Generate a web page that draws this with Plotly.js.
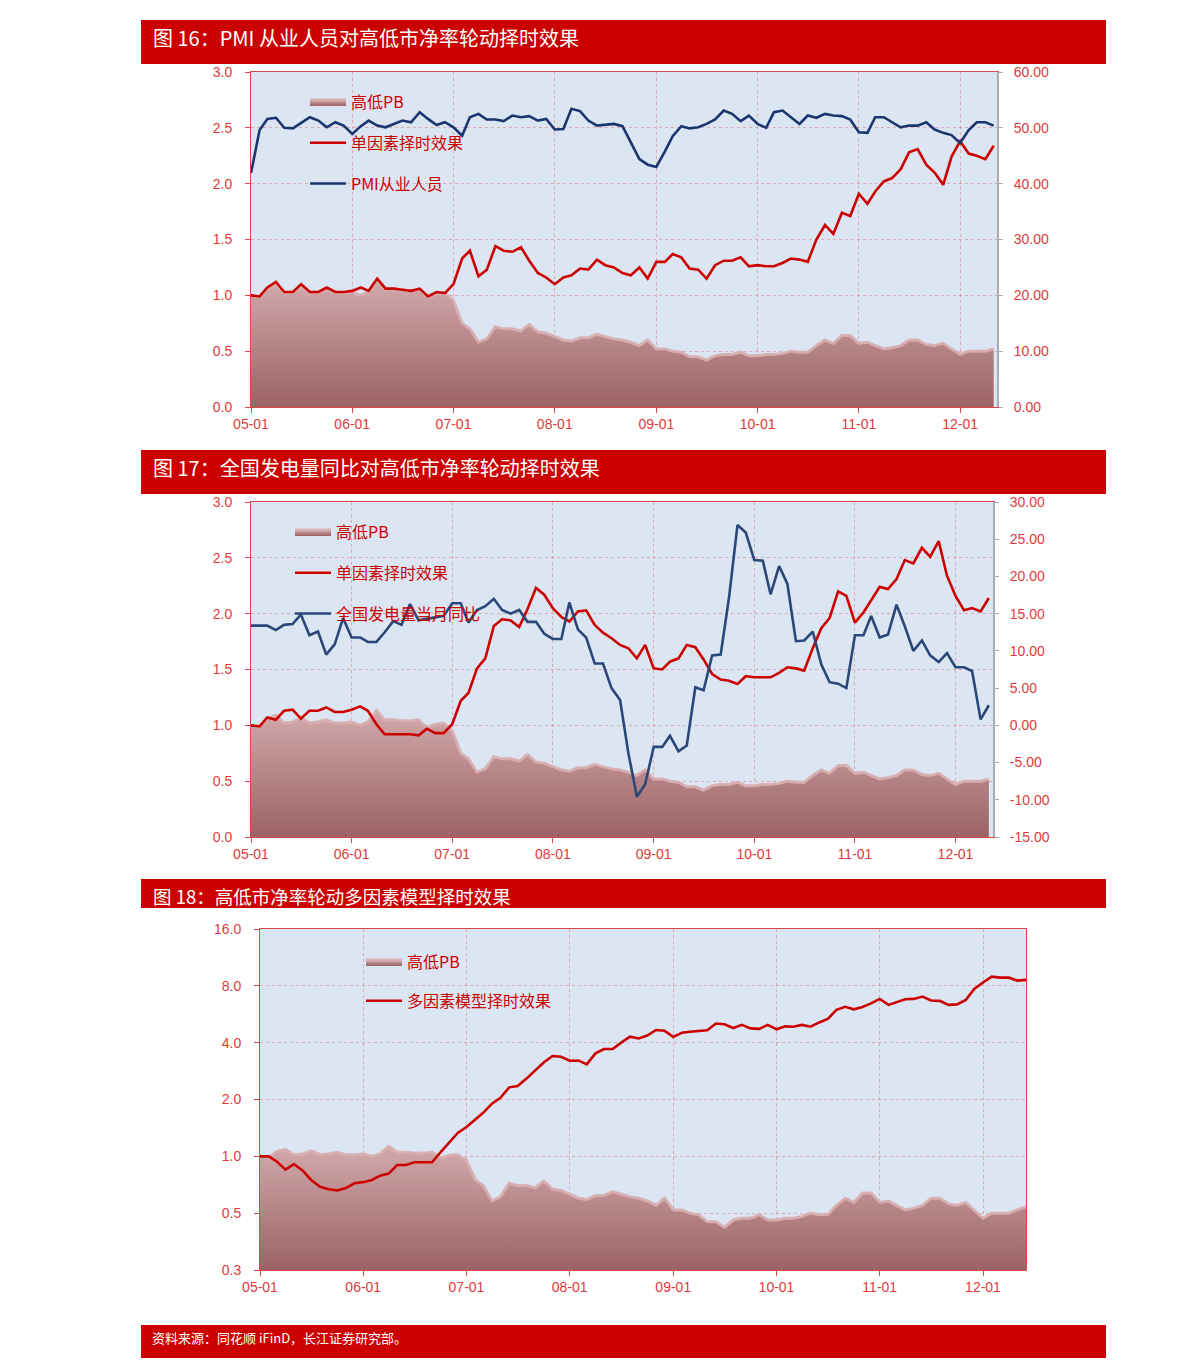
<!DOCTYPE html>
<html><head><meta charset="utf-8">
<script src="https://cdn.plot.ly/plotly-3.0.1.min.js"></script>
<style>html,body{margin:0;padding:0;background:#fff;}#chart{width:1191px;height:1365px;}</style>
</head><body><div id="chart"></div>
<script>
// ---- data ----
const months = [
 '2005-01-01','2005-02-01','2005-03-01','2005-04-01','2005-05-01','2005-06-01','2005-07-01','2005-08-01','2005-09-01','2005-10-01','2005-11-01','2005-12-01',
 '2006-01-01','2006-02-01','2006-03-01','2006-04-01','2006-05-01','2006-06-01','2006-07-01','2006-08-01','2006-09-01','2006-10-01','2006-11-01','2006-12-01',
 '2007-01-01','2007-02-01','2007-03-01','2007-04-01','2007-05-01','2007-06-01','2007-07-01','2007-08-01','2007-09-01','2007-10-01','2007-11-01','2007-12-01',
 '2008-01-01','2008-02-01','2008-03-01','2008-04-01','2008-05-01','2008-06-01','2008-07-01','2008-08-01','2008-09-01','2008-10-01','2008-11-01','2008-12-01',
 '2009-01-01','2009-02-01','2009-03-01','2009-04-01','2009-05-01','2009-06-01','2009-07-01','2009-08-01','2009-09-01','2009-10-01','2009-11-01','2009-12-01',
 '2010-01-01','2010-02-01','2010-03-01','2010-04-01','2010-05-01','2010-06-01','2010-07-01','2010-08-01','2010-09-01','2010-10-01','2010-11-01','2010-12-01',
 '2011-01-01','2011-02-01','2011-03-01','2011-04-01','2011-05-01','2011-06-01','2011-07-01','2011-08-01','2011-09-01','2011-10-01','2011-11-01','2011-12-01',
 '2012-01-01','2012-02-01','2012-03-01','2012-04-01','2012-05-01','2012-06-01'
];
// 高低PB (shared by all three charts)
const pbRatio = [
 1.00,0.99,1.06,1.09,1.02,1.03,1.07,1.02,1.03,1.05,1.02,1.02,
 1.03,1.00,1.03,1.13,1.05,1.05,1.04,1.04,1.05,0.98,1.01,1.02,
 0.95,0.75,0.70,0.58,0.61,0.72,0.70,0.70,0.68,0.74,0.67,0.66,
 0.63,0.60,0.59,0.62,0.62,0.65,0.63,0.61,0.60,0.58,0.55,0.60,
 0.52,0.52,0.50,0.49,0.45,0.45,0.42,0.46,0.47,0.47,0.49,0.46,
 0.46,0.47,0.47,0.48,0.50,0.49,0.49,0.55,0.60,0.57,0.64,0.64,
 0.57,0.58,0.55,0.52,0.53,0.55,0.60,0.60,0.56,0.55,0.57,0.52,
 0.47,0.50,0.50,0.50,0.52,0.54
];
// 图16 单因素择时效果 (PMI)
const singlePMI = [
 1.00,0.99,1.07,1.12,1.03,1.03,1.10,1.03,1.03,1.07,1.03,1.03,
 1.04,1.07,1.04,1.15,1.06,1.06,1.05,1.04,1.06,0.99,1.03,1.02,
 1.10,1.33,1.40,1.17,1.23,1.44,1.40,1.39,1.43,1.31,1.20,1.16,
 1.10,1.16,1.18,1.24,1.23,1.32,1.27,1.25,1.20,1.18,1.25,1.15,
 1.30,1.30,1.37,1.34,1.24,1.23,1.15,1.27,1.31,1.31,1.34,1.26,
 1.27,1.26,1.26,1.29,1.33,1.32,1.30,1.50,1.63,1.55,1.74,1.71,
 1.91,1.82,1.93,2.02,2.05,2.13,2.28,2.31,2.17,2.10,1.99,2.24,
 2.38,2.27,2.25,2.22,2.34
];
// 图16 PMI从业人员
const pmiEmployment = [
 41.9,49.6,51.6,51.8,50.0,49.9,50.9,51.9,51.3,50.1,51.0,50.4,
 48.9,50.3,51.3,50.4,50.1,50.7,51.3,51.0,52.8,51.6,50.5,51.0,
 50.1,48.6,51.9,52.5,51.5,51.5,51.2,52.2,51.9,52.1,51.3,51.6,
 49.7,49.8,53.4,53.0,51.3,50.4,50.6,50.7,50.3,47.3,44.4,43.4,
 43.0,45.8,48.5,50.3,49.9,50.1,50.7,51.5,53.1,52.5,51.2,52.2,
 50.7,50.0,52.8,53.1,51.9,50.7,52.2,51.8,52.5,52.2,52.1,51.5,
 49.2,49.1,51.9,51.9,51.0,50.1,50.4,50.4,51.0,49.7,49.1,48.7,
 47.3,49.6,51.0,51.0,50.4
];
// 图17 单因素择时效果 (发电量)
const singlePower = [
 1.00,0.99,1.07,1.05,1.13,1.14,1.06,1.13,1.13,1.16,1.12,1.12,
 1.14,1.17,1.13,1.01,0.92,0.92,0.92,0.92,0.91,0.97,0.93,0.93,
 1.01,1.22,1.29,1.51,1.60,1.89,1.95,1.94,1.88,2.04,2.23,2.17,
 2.05,1.97,1.93,2.02,2.03,1.90,1.83,1.78,1.72,1.69,1.60,1.72,
 1.51,1.50,1.57,1.60,1.72,1.70,1.59,1.46,1.41,1.40,1.37,1.44,
 1.43,1.43,1.43,1.47,1.52,1.51,1.49,1.69,1.87,1.96,2.20,2.16,
 1.92,2.01,2.12,2.24,2.22,2.31,2.48,2.45,2.59,2.51,2.65,2.34,
 2.16,2.03,2.05,2.02,2.14
];
// 图17 全国发电量当月同比
const powerYoY = [
 13.4,13.4,13.4,12.8,13.5,13.6,14.9,12.1,12.6,9.5,10.9,14.4,
 11.8,11.8,11.2,11.2,12.5,14.0,13.5,16.3,14.1,14.3,14.5,14.7,
 16.4,16.4,13.8,15.5,16.0,17.0,15.5,15.0,15.5,13.9,13.9,12.3,
 11.6,11.6,16.5,12.9,11.8,8.3,8.3,5.0,3.4,-3.7,-9.6,-7.9,
 -2.9,-2.9,-1.4,-3.5,-2.7,5.1,4.7,9.4,9.5,17.1,26.9,25.9,
 22.2,22.1,17.6,21.4,19.0,11.3,11.4,12.6,8.2,5.8,5.6,5.0,
 12.1,12.1,14.7,11.8,12.2,16.2,13.3,10.0,11.4,9.4,8.5,9.7,
 7.8,7.8,7.3,0.8,2.7
];
// 图18 多因素模型择时效果
const multiFactor = [
 1.00,1.00,0.94,0.85,0.91,0.84,0.75,0.69,0.67,0.66,0.68,0.72,
 0.73,0.75,0.79,0.81,0.90,0.90,0.93,0.93,0.93,1.05,1.18,1.33,
 1.43,1.57,1.70,1.90,2.04,2.32,2.36,2.58,2.84,3.14,3.40,3.37,
 3.21,3.22,3.07,3.51,3.70,3.70,4.00,4.30,4.21,4.36,4.67,4.63,
 4.29,4.52,4.57,4.61,4.65,5.05,5.01,4.78,4.97,4.76,4.73,4.97,
 4.71,4.88,4.86,4.97,4.86,5.12,5.34,5.97,6.19,6.01,6.18,6.46,
 6.82,6.34,6.54,6.79,6.82,7.02,6.69,6.66,6.34,6.38,6.73,7.70,
 8.33,8.95,8.84,8.84,8.53,8.60
];
// tick labels
const rightTicks16 = [0,10,20,30,40,50,60];
const rightTicks17 = [-15,-10,-5,0,5,10,15,20,25,30];
const rightText17 = ['-15.00','-10.00','-5.00','0.00','5.00','10.00','15.00','20.00','25.00','30.00'];
const logTicks18 = [0.25,0.5,1,2,4,8,16];
const logText18 = ['0.3','0.5','1.0','2.0','4.0','8.0','16.0'];
const titles = ['图 16：PMI 从业人员对高低市净率轮动择时效果','图 17：全国发电量同比对高低市净率轮动择时效果','图 18：高低市净率轮动多因素模型择时效果'];
const sourceText = '资料来源：同花顺 iFinD，长江证券研究部。';

// ---- helpers ----
const W = 1191, H = 1365;
const X = p => p / W;
const Y = p => 1 - p / H;
const n1 = 89;
const RED = '#CC0000';
const TICKRED = '#E23A3A';
const AXISRED = '#D84848';
const GRID = 'rgba(222,120,125,0.55)';
const CJK = '"Noto Sans CJK SC", "Noto Sans", sans-serif';
const LAT = '"Liberation Sans", Arial, sans-serif';
const tickfont = {family: LAT, size: 14, color: TICKRED};

function pbTrace(n, xa, ya, leg, start, stop) {
  return {
    x: months.slice(0, n), y: pbRatio.slice(0, n), xaxis: xa, yaxis: ya,
    type: 'scatter', mode: 'lines', name: '高低PB', legend: leg, legendgroup: leg + 'a',
    fill: 'tozeroy',
    line: {color: 'rgba(216,174,177,0.95)', width: 3},
    fillgradient: {type: 'vertical', start: start, stop: stop,
      colorscale: [[0, '#9C6265'], [1, '#D2AAAC']]},
    hoverinfo: 'skip'
  };
}

const traces = [
  pbTrace(n1, 'x', 'y', 'legend', 0, 1.15),
  {x: months.slice(0, n1), y: singlePMI, xaxis: 'x', yaxis: 'y', type: 'scatter', mode: 'lines',
   name: '单因素择时效果', legend: 'legend', legendgroup: 'l1b', line: {color: RED, width: 2.6}},
  {x: months.slice(0, n1), y: pmiEmployment, xaxis: 'x', yaxis: 'y2', type: 'scatter', mode: 'lines',
   name: 'PMI从业人员', legend: 'legend', legendgroup: 'l1c', line: {color: '#1B3570', width: 2.6}},

  pbTrace(n1, 'x2', 'y3', 'legend2', 0, 1.15),
  {x: months.slice(0, n1), y: singlePower, xaxis: 'x2', yaxis: 'y3', type: 'scatter', mode: 'lines',
   name: '单因素择时效果', legend: 'legend2', legendgroup: 'l2b', line: {color: RED, width: 2.6}},
  {x: months.slice(0, n1), y: powerYoY, xaxis: 'x2', yaxis: 'y4', type: 'scatter', mode: 'lines',
   name: '全国发电量当月同比', legend: 'legend2', legendgroup: 'l2c', line: {color: '#2A4779', width: 2.6}},

  pbTrace(months.length, 'x3', 'y5', 'legend3', 0.25, 1.15),
  {x: months, y: multiFactor, xaxis: 'x3', yaxis: 'y5', type: 'scatter', mode: 'lines',
   name: '多因素模型择时效果', legend: 'legend3', legendgroup: 'l3b', line: {color: RED, width: 2.6}}
];

function xAxis(d0, d1, anchor, end) {
  return {domain: [X(d0), X(d1)], anchor: anchor, type: 'date',
    range: ['2005-01-01', end], tick0: '2005-01-01', dtick: 'M12', tickformat: '%y-%m',
    ticks: 'outside', ticklen: 5, tickcolor: AXISRED, tickwidth: 1,
    showline: true, linecolor: AXISRED, linewidth: 1, mirror: true,
    showgrid: true, gridcolor: GRID, griddash: 'dot', gridwidth: 1,
    tickfont: tickfont, ticklabelstandoff: -1, fixedrange: true};
}
function yLeft(top, bottom, anchor) {
  return {domain: [Y(bottom), Y(top)], anchor: anchor, range: [0, 3], dtick: 0.5, tick0: 0,
    tickformat: '.1f', ticks: 'outside', ticklen: 5, tickcolor: AXISRED,
    showline: true, linecolor: AXISRED, linewidth: 1,
    showgrid: true, gridcolor: GRID, griddash: 'dot', gridwidth: 1, zeroline: false,
    tickfont: tickfont, ticklabelstandoff: 10, fixedrange: true};
}
function legendAt(px, py, gap) {
  return {x: X(px), y: Y(py), xanchor: 'left', yanchor: 'top', bgcolor: 'rgba(0,0,0,0)',
    font: {family: CJK, size: 16, color: RED}, tracegroupgap: gap, itemwidth: 36, traceorder: 'grouped'};
}

const layout = {
  width: W, height: H, margin: {l: 0, r: 0, t: 0, b: 0, pad: 0},
  paper_bgcolor: '#ffffff', plot_bgcolor: '#DCE6F2',
  font: {family: CJK, color: RED},
  showlegend: true,
  xaxis: xAxis(251, 997, 'y', '2012-05-13'),
  yaxis: yLeft(72, 407, 'x'),
  yaxis2: {overlaying: 'y', side: 'right', anchor: 'x', range: [0, 60], tickvals: rightTicks16,
    tickformat: '.2f', showgrid: false, zeroline: false, showline: true, linecolor: '#A9ADB5', linewidth: 2,
    ticks: 'outside', ticklen: 4, tickcolor: '#A9ADB5', tickfont: tickfont, ticklabelstandoff: 8, fixedrange: true},

  xaxis2: xAxis(251, 993, 'y3', '2012-05-16'),
  yaxis3: yLeft(502, 837, 'x2'),
  yaxis4: {overlaying: 'y3', side: 'right', anchor: 'x2', range: [-15, 30], tickvals: rightTicks17, ticktext: rightText17,
    showgrid: false, zeroline: false, showline: true, linecolor: '#A9ADB5', linewidth: 2,
    ticks: 'outside', ticklen: 4, tickcolor: '#A9ADB5', tickfont: tickfont, ticklabelstandoff: 8, fixedrange: true},

  xaxis3: xAxis(260, 1026, 'y5', '2012-06-01'),
  yaxis5: {domain: [Y(1270), Y(929)], anchor: 'x3', type: 'log',
    range: [Math.log10(0.25), Math.log10(16)], tickvals: logTicks18, ticktext: logText18,
    ticks: 'outside', ticklen: 5, tickcolor: AXISRED,
    showline: true, linecolor: AXISRED, linewidth: 1, mirror: true,
    showgrid: true, gridcolor: GRID, griddash: 'dot', gridwidth: 1, zeroline: false,
    tickfont: tickfont, ticklabelstandoff: 10, fixedrange: true},

  legend: legendAt(305, 85, 17),
  legend2: legendAt(290, 515, 17),
  legend3: legendAt(361, 945, 15),

  shapes: [
    {type: 'rect', xref: 'paper', yref: 'paper', x0: X(141), x1: X(1106), y0: Y(64), y1: Y(20), fillcolor: '#CC0000', line: {width: 0}, layer: 'below'},
    {type: 'rect', xref: 'paper', yref: 'paper', x0: X(141), x1: X(1106), y0: Y(494), y1: Y(450), fillcolor: '#CC0000', line: {width: 0}, layer: 'below'},
    {type: 'rect', xref: 'paper', yref: 'paper', x0: X(141), x1: X(1106), y0: Y(908), y1: Y(879), fillcolor: '#CC0000', line: {width: 0}, layer: 'below'},
    {type: 'rect', xref: 'paper', yref: 'paper', x0: X(141), x1: X(1106), y0: Y(1358), y1: Y(1325), fillcolor: '#CC0000', line: {width: 0}, layer: 'below'}
  ],
  annotations: [
    {xref: 'paper', yref: 'paper', x: X(151), y: Y(37), xanchor: 'left', yanchor: 'middle', showarrow: false,
     text: titles[0], font: {family: CJK, size: 20, color: '#ffffff'}},
    {xref: 'paper', yref: 'paper', x: X(151), y: Y(467), xanchor: 'left', yanchor: 'middle', showarrow: false,
     text: titles[1], font: {family: CJK, size: 20, color: '#ffffff'}},
    {xref: 'paper', yref: 'paper', x: X(151), y: Y(896), xanchor: 'left', yanchor: 'middle', showarrow: false,
     text: titles[2], font: {family: CJK, size: 18.5, color: '#ffffff'}},
    {xref: 'paper', yref: 'paper', x: X(150), y: Y(1337), xanchor: 'left', yanchor: 'middle', showarrow: false,
     text: sourceText, font: {family: CJK, size: 13, color: '#ffffff'}}
  ]
};

Plotly.newPlot('chart', traces, layout, {displayModeBar: false, staticPlot: true});
</script>
</body></html>
